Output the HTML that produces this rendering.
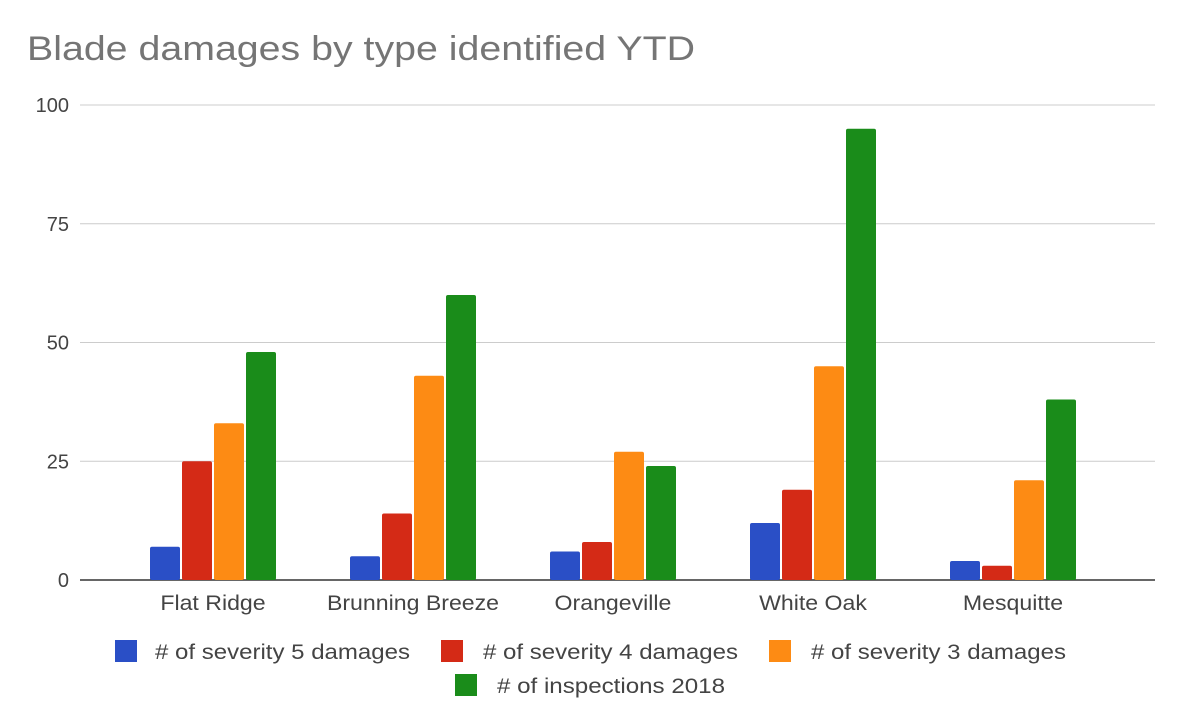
<!DOCTYPE html>
<html><head><meta charset="utf-8"><style>
body{margin:0;background:#fff;font-family:"Liberation Sans",Arial,sans-serif;}
svg text{font-family:"Liberation Sans",Arial,sans-serif;}
</style></head><body>
<svg id="chart" width="1180" height="710">
<text x="27" y="60" font-size="34" fill="#757575" textLength="668" lengthAdjust="spacingAndGlyphs">Blade damages by type identified YTD</text>
<g id="grid"></g><g id="bars"></g><g id="xlabels"></g>
<g>
<rect x="115" y="640" width="22" height="22" fill="#2a4fc6"/>
<text x="155" y="659" font-size="21" fill="#444" textLength="255" lengthAdjust="spacingAndGlyphs"># of severity 5 damages</text>
<rect x="441" y="640" width="22" height="22" fill="#d42a16"/>
<text x="483" y="659" font-size="21" fill="#444" textLength="255" lengthAdjust="spacingAndGlyphs"># of severity 4 damages</text>
<rect x="769" y="640" width="22" height="22" fill="#fd8b14"/>
<text x="811" y="659" font-size="21" fill="#444" textLength="255" lengthAdjust="spacingAndGlyphs"># of severity 3 damages</text>
<rect x="455" y="674" width="22" height="22" fill="#1a8c1a"/>
<text x="497" y="693" font-size="21" fill="#444" textLength="228" lengthAdjust="spacingAndGlyphs"># of inspections 2018</text>
</g>
</svg>
<script>
const categories=["Flat Ridge","Brunning Breeze","Orangeville","White Oak","Mesquitte"];
const sev5=[7,5,6,12,4];
const sev4=[25,14,8,19,3];
const sev3=[33,43,27,45,21];
const inspections=[48,60,24,95,38];
const yTicks=[0,25,50,75,100];
const seriesList=[["sev5",sev5,"#2a4fc6"],["sev4",sev4,"#d42a16"],["sev3",sev3,"#fd8b14"],["inspections",inspections,"#1a8c1a"]];
const NS="http://www.w3.org/2000/svg";
const y0=580,yTop=105,left=80,right=1155;
function yScale(v){return y0-(v/100)*(y0-yTop);}
function xCenter(i){return 213+i*200;}
const grid=document.getElementById('grid');
yTicks.forEach(t=>{
 const l=document.createElementNS(NS,'line');
 l.setAttribute('x1',left);l.setAttribute('x2',right);
 l.setAttribute('y1',yScale(t));l.setAttribute('y2',yScale(t));
 l.setAttribute('stroke',t===0?'#333':'#ccc');l.setAttribute('stroke-width',t===0?1.5:1);
 
 
 grid.appendChild(l);
 const tx=document.createElementNS(NS,'text');
 tx.setAttribute('x',69);tx.setAttribute('y',yScale(t)+7);
 tx.setAttribute('text-anchor','end');tx.setAttribute('font-size','20');tx.setAttribute('fill','#444');
 tx.textContent=t;
 
 
 grid.appendChild(tx);
});
const bars=document.getElementById('bars');
const bw=30,gap=2;
categories.forEach((c,i)=>{
 seriesList.forEach((s,j)=>{
  const v=s[1][i];
  const r=document.createElementNS(NS,'rect');
  const x=xCenter(i)-2*(bw+gap)+gap/2+j*(bw+gap);
  r.setAttribute('x',x);r.setAttribute('y',yScale(v));
  r.setAttribute('width',bw);r.setAttribute('height',y0-yScale(v));
  r.setAttribute('fill',s[2]);r.setAttribute('rx',2);
  
  
  bars.appendChild(r);
 });
 const t=document.createElementNS(NS,'text');
 t.setAttribute('x',xCenter(i));t.setAttribute('y',610);
 t.setAttribute('text-anchor','middle');t.setAttribute('font-size','21');t.setAttribute('fill','#444');
 t.textContent=c;
 
 
 document.getElementById('xlabels').appendChild(t);
 const w=t.getComputedTextLength();
 t.setAttribute('textLength',w*1.1);
 t.setAttribute('lengthAdjust','spacingAndGlyphs');
});
</script>
</body></html>
